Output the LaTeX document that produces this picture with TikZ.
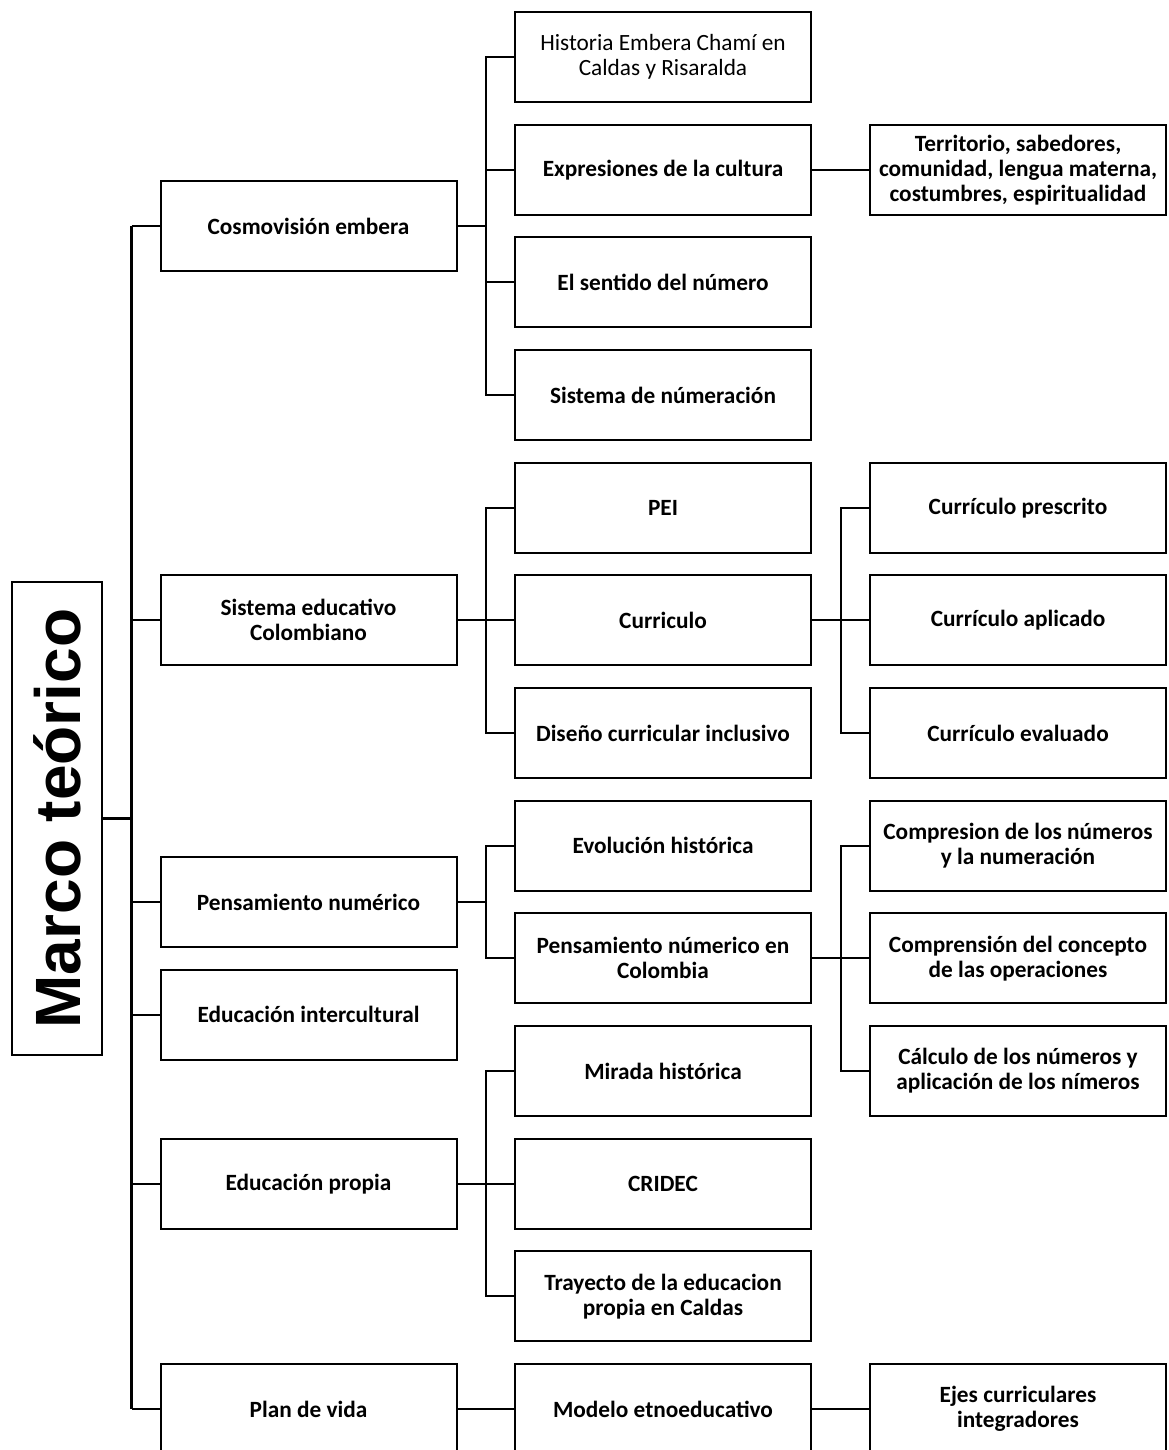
\documentclass[tikz,border=0pt]{standalone}
\usepackage{fontspec}
\setmainfont{Carlito}
\newfontfamily\arialfont{Liberation Sans}
\begin{document}
\begin{tikzpicture}[x=1pt,y=-1pt,
  box/.style={draw, line width=2pt, minimum width=296pt, minimum height=90pt, inner sep=0pt, align=center, font=\bfseries\fontsize{23.3}{25}\selectfont},
  regbox/.style={box, font=\fontsize{23.3}{25}\selectfont},
  conn/.style={line width=2.3pt},
  trunk/.style={line width=3pt}]
\useasboundingbox (0,0) rectangle (1168,1450);
\clip (0,0) rectangle (1168,1450);
% column 1
\node[box] (cosmo) at (308.5,226) {Cosmovisión embera};
\node[box] (sisedu) at (308.5,620.3) {Sistema educativo\\Colombiano};
\node[box] (pensnum) at (308.5,902) {Pensamiento numérico};
\node[box] (eduint) at (308.5,1014.7) {Educación intercultural};
\node[box] (eduprop) at (308.5,1183.7) {Educación propia};
\node[box] (plan) at (308.5,1409) {Plan de vida};
% column 2
\node[regbox] (hist) at (663,57) {Historia Embera Chamí en\\Caldas y Risaralda};
\node[box] (expr) at (663,169.7) {Expresiones de la cultura};
\node[box] (sentido) at (663,282.3) {El sentido del número};
\node[box] (sisnum) at (663,395) {Sistema de númeración};
\node[box] (pei) at (663,507.7) {PEI};
\node[box] (curr) at (663,620.3) {Curriculo};
\node[box] (diseno) at (663,733) {Diseño curricular inclusivo};
\node[box] (evol) at (663,845.7) {Evolución histórica};
\node[box] (pnc) at (663,958.3) {Pensamiento númerico en\\Colombia};
\node[box] (mirada) at (663,1071) {Mirada histórica};
\node[box] (cridec) at (663,1183.7) {CRIDEC};
\node[box] (trayecto) at (663,1296.3) {Trayecto de la educacion\\propia en Caldas};
\node[box] (modelo) at (663,1409) {Modelo etnoeducativo};
% column 3
\node[box] (terr) at (1018,169.7) {Territorio, sabedores,\\comunidad, lengua materna,\\costumbres, espiritualidad};
\node[box] (cpres) at (1018,507.7) {Currículo prescrito};
\node[box] (capl) at (1018,620.3) {Currículo aplicado};
\node[box] (ceval) at (1018,733) {Currículo evaluado};
\node[box] (compn) at (1018,845.7) {Compresion de los números\\y la numeración};
\node[box] (compo) at (1018,958.3) {Comprensión del concepto\\de las operaciones};
\node[box] (calc) at (1018,1071) {Cálculo de los números y\\aplicación de los nímeros};
\node[box] (ejes) at (1018,1409) {Ejes curriculares\\integradores};
% root
\node[draw, line width=1.5pt, minimum width=473pt, minimum height=90pt, inner sep=0pt, rotate=90, font=\arialfont\bfseries\fontsize{64}{64}\selectfont] (marco) at (57,818.5) {Marco teórico};
% bus coordinates
\coordinate (t) at (131.5,0);
\coordinate (b1) at (486,0);
\coordinate (b2) at (841,0);
% trunk
\draw[conn] (marco.south) -- (marco.south -| t);
\draw[trunk] (cosmo.west -| t) -- (plan.west -| t);
\foreach \n in {cosmo,sisedu,pensnum,eduint,eduprop,plan}
  \draw[conn] (\n.west -| t) -- (\n.west);
% cosmovision group
\draw[conn] (cosmo.east) -- (cosmo.east -| b1);
\draw[conn] (hist.west) -- (hist.west -| b1) -- (sisnum.west -| b1) -- (sisnum.west);
\draw[conn] (expr.west -| b1) -- (expr.west);
\draw[conn] (sentido.west -| b1) -- (sentido.west);
\draw[conn] (expr.east) -- (terr.west);
% sistema educativo group
\draw[conn] (sisedu.east) -- (curr.west);
\draw[conn] (pei.west) -- (pei.west -| b1) -- (diseno.west -| b1) -- (diseno.west);
\draw[conn] (curr.east) -- (capl.west);
\draw[conn] (cpres.west) -- (cpres.west -| b2) -- (ceval.west -| b2) -- (ceval.west);
% pensamiento group
\draw[conn] (pensnum.east) -- (pensnum.east -| b1);
\draw[conn] (evol.west) -- (evol.west -| b1) -- (pnc.west -| b1) -- (pnc.west);
\draw[conn] (pnc.east) -- (compo.west);
\draw[conn] (compn.west) -- (compn.west -| b2) -- (calc.west -| b2) -- (calc.west);
% educacion propia group
\draw[conn] (eduprop.east) -- (cridec.west);
\draw[conn] (mirada.west) -- (mirada.west -| b1) -- (trayecto.west -| b1) -- (trayecto.west);
% plan de vida
\draw[conn] (plan.east) -- (modelo.west);
\draw[conn] (modelo.east) -- (ejes.west);
\end{tikzpicture}
\end{document}
